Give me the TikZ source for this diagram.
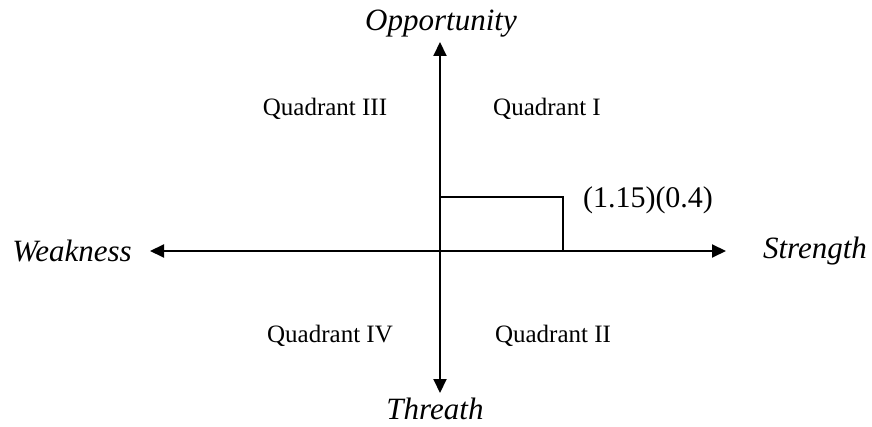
\documentclass[tikz,border=0pt]{standalone}
\usepackage{fontspec}
\setmainfont{Liberation Serif}
\usetikzlibrary{arrows.meta}
\begin{document}
\begin{tikzpicture}[x=1pt,y=-1pt,
  axis/.style={line width=2pt,-{Triangle[length=14pt,width=13pt]}},
  lab/.style={font=\fontsize{31}{34}\selectfont\itshape,anchor=base,inner sep=0pt},
  quad/.style={font=\fontsize{25}{28}\selectfont,anchor=base,inner sep=0pt},
  coordlab/.style={font=\fontsize{30}{33}\selectfont,anchor=base,inner sep=0pt}]
\useasboundingbox (0,0) rectangle (872,427);
\coordinate (O) at (440,251);
\coordinate (T) at (440,42);
\coordinate (B) at (440,393);
\coordinate (L) at (150,251);
\coordinate (R) at (726,251);
\coordinate (bx1) at (440,197);
\coordinate (bx2) at (563,197);
\coordinate (bx3) at (563,251);
\draw[axis] (O) -- (T);
\draw[axis] (O) -- (B);
\draw[axis] (O) -- (L);
\draw[axis] (O) -- (R);
\draw[line width=1.5pt] (bx1) -- (bx2) -- (bx3);
\node[lab] (opp) at (441,31) {Opportunity};
\node[lab] (thr) at (435,419) {Threath};
\node[lab] (weak) at (72,262) {Weakness};
\node[lab] (str) at (815,259) {Strength};
\node[quad] (q3) at (325,116) {Quadrant III};
\node[quad] (q1) at (547,116) {Quadrant I};
\node[quad] (q4) at (330,342) {Quadrant IV};
\node[quad] (q2) at (553,342) {Quadrant II};
\node[coordlab] (val) at (648,208) {(1.15)(0.4)};
\end{tikzpicture}
\end{document}
